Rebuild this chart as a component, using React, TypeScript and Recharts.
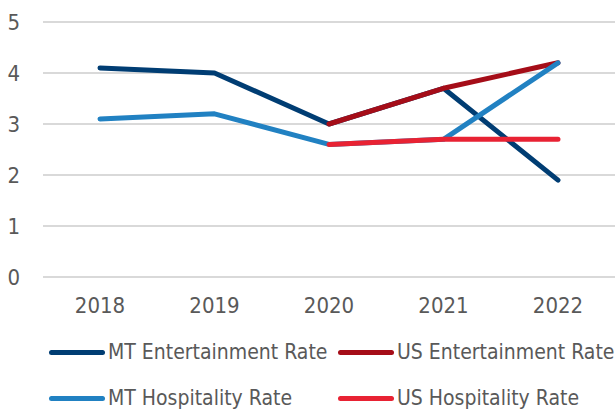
import React from "react";
import { LineChart, Line, XAxis, YAxis, CartesianGrid } from "recharts";

const years = ["2018", "2019", "2020", "2021", "2022"];
const mtEntertainment = [4.1, 4.0, 3.0, 3.7, 1.9];
const usEntertainment = [null, null, 3.0, 3.7, 4.2];
const mtHospitality = [3.1, 3.2, 2.6, 2.7, 4.2];
const usHospitality = [null, null, 2.6, 2.7, 2.7];
const yTicks = [0, 1, 2, 3, 4, 5];

const series = [
  { key: "mtEnt", name: "MT Entertainment Rate", color: "#003d73", values: mtEntertainment },
  { key: "usEnt", name: "US Entertainment Rate", color: "#a50d18", values: usEntertainment },
  { key: "mtHos", name: "MT Hospitality Rate", color: "#2181c2", values: mtHospitality },
  { key: "usHos", name: "US Hospitality Rate", color: "#e82233", values: usHospitality },
];

const data = years.map((y, i) => {
  const row: any = { year: y };
  series.forEach((s) => (row[s.key] = s.values[i]));
  return row;
});

const FONT = "'Liberation Sans Narrow', 'DejaVu Sans Condensed', Roboto, sans-serif";
const TEXT = "#595959";

export default function App() {
  return (
    <div style={{ position: "absolute", left: 0, top: 0, width: 616, height: 411, background: "#fff", fontFamily: FONT }}>
      <LineChart width={616} height={320} data={data} margin={{ top: 22, right: 1, bottom: 0, left: 0 }}>
        <CartesianGrid vertical={false} stroke="#d9d9d9" strokeWidth={2} />
        <XAxis
          dataKey="year"
          axisLine={false}
          tickLine={false}
          tickSize={0}
          tickMargin={20}
          height={43}
          padding={{ left: 57, right: 57 }}
          tick={{ fill: TEXT, fontSize: 22, fontFamily: FONT }}
        />
        <YAxis
          domain={[0, 5]}
          ticks={yTicks}
          axisLine={false}
          tickLine={false}
          tickSize={0}
          tickMargin={23}
          width={43}
          interval={0}
          tick={{ fill: TEXT, fontSize: 22, fontFamily: FONT }}
        />
        {series.map((s) => (
          <Line
            key={s.key}
            dataKey={s.key}
            name={s.name}
            stroke={s.color}
            strokeWidth={5}
            strokeLinecap="round"
            strokeLinejoin="round"
            dot={false}
            activeDot={false}
            isAnimationActive={false}
          />
        ))}
      </LineChart>
      {series.map((s, i) => {
        const col = i % 2;
        const row = Math.floor(i / 2);
        return (
          <div
            key={s.key}
            style={{
              position: "absolute",
              left: col === 0 ? 49 : 338,
              top: row === 0 ? 340 : 386,
              height: 24,
              display: "flex",
              alignItems: "center",
              whiteSpace: "nowrap",
            }}
          >
            <div style={{ width: 56, height: 5, borderRadius: 3, background: s.color, marginRight: 3 }} />
            <span style={{ fontSize: 21, color: TEXT, fontFamily: FONT }}>{s.name}</span>
          </div>
        );
      })}
    </div>
  );
}
